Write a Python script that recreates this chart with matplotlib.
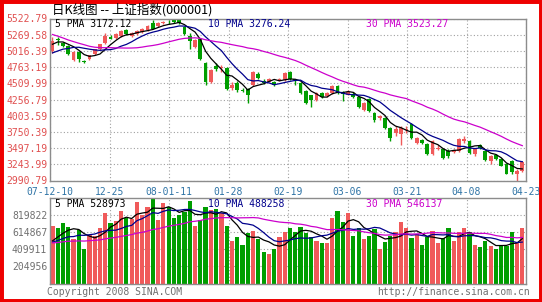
import numpy as np
import pandas as pd
import matplotlib
matplotlib.use('Agg')
import matplotlib.pyplot as plt
from matplotlib.patches import Rectangle

# x-axis date labels (evenly spaced along the axis)
date_labels = ['07-12-10', '12-25', '08-01-11', '01-28', '02-19',
               '03-06', '03-21', '04-08', '04-23']

price_ticks = [2990.79, 3243.99, 3497.19, 3750.39, 4003.59, 4256.79,
               4509.99, 4763.19, 5016.39, 5269.58, 5522.79]
volume_ticks = [204956, 409911, 614867, 819822]
volume_top = 1024778

# daily candles
open_ = [5015, 5195, 5140, 5100, 4880, 4995, 4860, 4885, 4965, 5040,
         5145, 5240, 5225, 5250, 5345, 5250, 5275, 5312, 5343, 5448,
         5405, 5448, 5470, 5510, 5500, 5395, 5250, 5082, 5198, 4832,
         4530, 4780, 4750, 4749, 4440, 4520, 4410, 4420, 4485, 4655,
         4550, 4535, 4535, 4560, 4560, 4690, 4570, 4515, 4395, 4320,
         4250, 4355, 4315, 4360, 4470, 4365, 4330, 4340, 4296, 4093,
         4270, 4050, 3975, 3972, 3816, 3738, 3713, 3775, 3871, 3581,
         3624, 3562, 3405, 3478, 3483, 3452, 3440, 3452, 3608, 3608,
         3400, 3540, 3452, 3296, 3385, 3322, 3243, 3290, 3100, 3145]
high = [5235, 5230, 5160, 5115, 5020, 5010, 4880, 4960, 5050, 5130,
        5290, 5265, 5290, 5345, 5360, 5315, 5345, 5380, 5425, 5499,
        5465, 5490, 5495, 5522.79, 5515, 5410, 5292, 5200, 5210, 4845,
        4730, 4830, 4800, 4760, 4530, 4540, 4430, 4430, 4700, 4680,
        4570, 4600, 4550, 4595, 4690, 4700, 4580, 4530, 4410, 4330,
        4375, 4370, 4380, 4480, 4490, 4395, 4400, 4380, 4310, 4220,
        4285, 4065, 4020, 3990, 3830, 3843, 3840, 3850, 3885, 3675,
        3640, 3575, 3625, 3540, 3500, 3480, 3480, 3660, 3690, 3625,
        3490, 3560, 3470, 3395, 3405, 3340, 3260, 3305, 3165, 3300]
low = [4985, 5110, 5070, 4960, 4860, 4850, 4820, 4870, 4950, 5030,
       5130, 5195, 5210, 5240, 5260, 5240, 5265, 5300, 5330, 5355,
       5395, 5435, 5440, 5455, 5440, 5260, 5040, 5060, 4880, 4480,
       4510, 4700, 4690, 4400, 4400, 4370, 4380, 4207, 4470, 4580,
       4495, 4525, 4470, 4545, 4550, 4560, 4490, 4350, 4190, 4140,
       4240, 4285, 4300, 4350, 4340, 4240, 4320, 4280, 4130, 4080,
       4065, 3905, 3940, 3800, 3608, 3686, 3541, 3740, 3640, 3565,
       3560, 3395, 3390, 3460, 3330, 3340, 3420, 3440, 3580, 3410,
       3380, 3490, 3300, 3255, 3310, 3210, 3085, 3100, 2990.79, 3130]
close = [5165, 5180, 5090, 4975, 5000, 4885, 4845, 4948, 5040, 5120,
         5250, 5210, 5275, 5330, 5275, 5295, 5327, 5363, 5405, 5365,
         5448, 5472, 5462, 5468, 5458, 5276, 5170, 5187, 4894, 4530,
         4718, 4735, 4770, 4420, 4480, 4405, 4395, 4325, 4687, 4593,
         4510, 4577, 4485, 4580, 4670, 4575, 4555, 4360, 4200, 4250,
         4360, 4300, 4365, 4460, 4355, 4345, 4380, 4300, 4143, 4203,
         4080, 3936, 3995, 3816, 3660, 3796, 3816, 3800, 3660, 3660,
         3581, 3405, 3608, 3503, 3347, 3374, 3475, 3635, 3645, 3425,
         3478, 3503, 3312, 3374, 3322, 3222, 3094, 3116, 3147, 3278]
volume = [685000, 657000, 725000, 670000, 526000, 638000, 411000, 578000, 566000, 657000,
          844000, 717000, 749000, 864000, 777000, 765000, 975000, 816000, 916000, 1020000,
          757000, 963000, 916000, 785000, 816000, 856000, 983000, 685000, 757000, 916000,
          876000, 892000, 836000, 685000, 506000, 558000, 459000, 598000, 626000, 526000,
          379000, 352000, 411000, 558000, 610000, 665000, 618000, 677000, 598000, 558000,
          510000, 486000, 486000, 785000, 868000, 737000, 844000, 570000, 657000, 526000,
          570000, 646000, 411000, 498000, 570000, 610000, 737000, 657000, 538000, 590000,
          459000, 550000, 630000, 479000, 538000, 657000, 506000, 618000, 657000, 610000,
          459000, 439000, 506000, 451000, 407000, 459000, 447000, 610000, 491000, 665000]

# sessions before the window, estimated from where the averages start
prior_close = [5954, 5954, 5914, 5777, 5634, 5539, 5669, 5480, 5316,
               5298, 5158, 5412, 5368, 5316, 5269, 5214, 5043, 4984, 5032, 5004,
               4880, 4800, 4870, 4830, 4870, 5000, 5090, 5160, 5185]
prior_volume = [520000, 470000, 455000, 510000, 540000, 480000, 430000, 450000, 500000,
                470000, 445000, 490000, 520000, 460000, 430000, 470000, 505000, 480000,
                455000, 500000, 470000, 490000, 460000, 500000, 475000, 430000, 500000,
                485000, 440000]

price_legend = ['5 PMA 3172.12', '10 PMA 3276.24', '30 PMA 3523.27']
volume_legend = ['5 PMA 528973', '10 PMA 488258', '30 PMA 546137']

RED = '#f05a5a'
GREEN = '#009e00'
MA_COLORS = {5: 'black', 10: '#00008c', 30: '#cc00cc'}
MONO = 'DejaVu Sans Mono'


def moving_averages(prior, values, windows=(5, 10, 30)):
    s = pd.Series(list(prior) + list(values), dtype=float)
    n = len(values)
    return {w: s.rolling(w).mean().values[-n:] for w in windows}


def style_axes(ax, xlim, xticks):
    ax.set_xlim(*xlim)
    ax.set_xticks(xticks)
    ax.grid(True, linestyle=(0, (1, 2)), color='#a0a0a0', linewidth=0.8)
    ax.tick_params(length=0)
    for sp in ax.spines.values():
        sp.set_color('#8c8c8c')
        sp.set_linewidth(1.0)
    ax.set_axisbelow(True)


def put_legend(ax, labels, y):
    xs = [0.0105, 0.332, 0.664]
    for x, (w, c), lab in zip(xs, MA_COLORS.items(), labels):
        ax.text(x, y, lab, transform=ax.transAxes, color=c, fontsize=7,
                family=MONO, va='center', ha='left')


def plot_chart(path='out.png'):
    n = len(close)
    x = np.arange(n)
    o = np.array(open_, dtype=float)
    c = np.array(close, dtype=float)
    up = c >= o
    colors = [RED if u else GREEN for u in up]

    fig = plt.figure(figsize=(5.42, 3.02), dpi=100)
    W, H = 542.0, 302.0
    ax1 = fig.add_axes([50 / W, 1 - 180.5 / H, 476 / W, 162 / H])
    ax2 = fig.add_axes([50 / W, 1 - 283.5 / H, 476 / W, 86 / H])

    xlim = (-0.47, n - 1 + 0.7)
    xticks = np.linspace(xlim[0], xlim[1], len(date_labels))

    # candles
    ax1.vlines(x, low, high, colors=colors, linewidth=1.0)
    body_lo = np.minimum(o, c)
    body_h = np.maximum(np.abs(c - o), 12)
    ax1.bar(x, body_h, bottom=body_lo, width=0.72, color=colors, linewidth=0)
    for w, ma in moving_averages(prior_close, close).items():
        ax1.plot(x, ma, color=MA_COLORS[w], linewidth=0.9)

    style_axes(ax1, xlim, xticks)
    ax1.set_ylim(price_ticks[0], price_ticks[-1])
    ax1.set_yticks(price_ticks)
    ax1.set_yticklabels(['%.2f' % t for t in price_ticks], family=MONO,
                        fontsize=7, color='#e05050')
    ax1.set_xticklabels(date_labels, family=MONO, fontsize=7, color='#2f74a6')
    ax1.tick_params(axis='x', pad=4.5)
    ax1.tick_params(axis='y', pad=2)
    put_legend(ax1, price_legend, 0.966)

    # volume
    ax2.bar(x, volume, width=0.8, color=colors, linewidth=0)
    for w, ma in moving_averages(prior_volume, volume).items():
        ax2.plot(x, ma, color=MA_COLORS[w], linewidth=0.9)
    style_axes(ax2, xlim, xticks)
    ax2.set_xticklabels([])
    ax2.set_ylim(0, volume_top)
    ax2.set_yticks(volume_ticks)
    ax2.set_yticklabels([str(t) for t in volume_ticks], family=MONO,
                        fontsize=7, color='#707070')
    ax2.tick_params(axis='y', pad=2)
    put_legend(ax2, volume_legend, 0.924)

    # title and footer
    fig.text(52 / W, 1 - 9.5 / H, '日K线图 -- 上证指数(000001)', fontsize=9,
             family=['Noto Sans CJK SC', 'DejaVu Sans'], va='center', ha='left')
    fig.text(47 / W, 1 - 292 / H, 'Copyright 2008 SINA.COM', fontsize=7,
             family=MONO, color='#707070', va='center', ha='left')
    fig.text(530 / W, 1 - 292 / H, 'http://finance.sina.com.cn', fontsize=7,
             family=MONO, color='#707070', va='center', ha='right')

    # red frame
    fig.patches.append(Rectangle((0, 0), 1, 1, transform=fig.transFigure,
                                 fill=False, edgecolor='#ee0000', linewidth=5))

    fig.savefig(path, dpi=100)
    print(f"Saved {path}")


if __name__ == '__main__':
    plot_chart()
